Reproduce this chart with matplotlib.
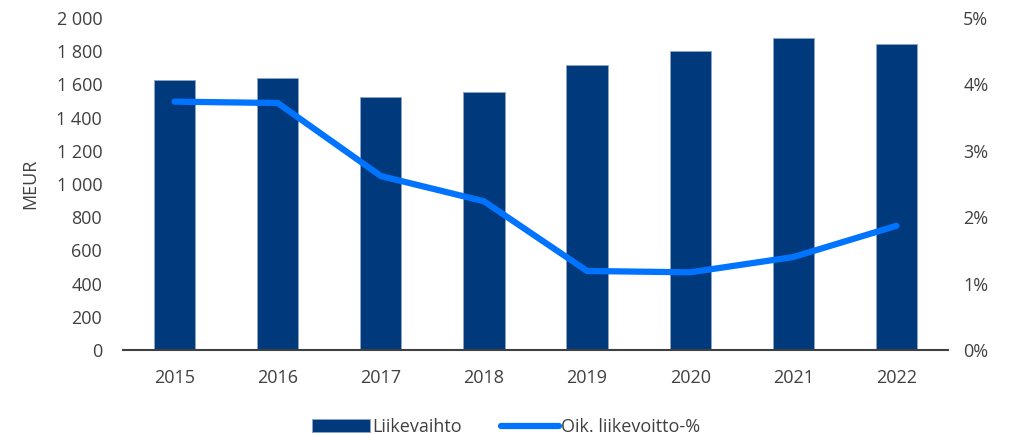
import numpy as np
import matplotlib.pyplot as plt
from matplotlib.ticker import FuncFormatter

years = ['2015', '2016', '2017', '2018', '2019', '2020', '2021', '2022']
revenue = [1627, 1640, 1526, 1554, 1719, 1799, 1880, 1843]
margin_pct = [3.74, 3.72, 2.62, 2.24, 1.19, 1.17, 1.40, 1.87]

BAR_COLOR = '#003a7d'
LINE_COLOR = '#0073ff'
TEXT_COLOR = '#404040'

plt.rcParams['font.family'] = ['Open Sans', 'DejaVu Sans']
plt.rcParams['font.size'] = 13
plt.rcParams['text.color'] = TEXT_COLOR

fig = plt.figure(figsize=(10.12, 4.36), dpi=100)
ax = fig.add_axes([123 / 1012, 86 / 436, 825 / 1012, 332 / 436])
ax2 = ax.twinx()

x = np.arange(len(years))
bars = ax.bar(x, revenue, width=0.4, color=BAR_COLOR, edgecolor='#8fa5c4',
              linewidth=0.6, label='Liikevaihto', zorder=2)
line, = ax2.plot(x, margin_pct, color=LINE_COLOR, linewidth=4.5,
                 solid_capstyle='round', solid_joinstyle='round',
                 label='Oik. liikevoitto-%', zorder=3)

ax.set_xlim(-0.5, len(years) - 0.5)
ax.set_ylim(0, 2000)
ax.set_yticks(np.arange(0, 2001, 200))
ax.yaxis.set_major_formatter(FuncFormatter(lambda v, p: f'{int(v):,}'.replace(',', ' ')))
ax2.set_ylim(0, 5)
ax2.set_yticks(np.arange(0, 6, 1))
ax2.yaxis.set_major_formatter(FuncFormatter(lambda v, p: f'{int(v)}%'))

ax.set_xticks(x)
ax.set_xticklabels(years)
ax.set_ylabel('MEUR', color=TEXT_COLOR, labelpad=12)

for a in (ax, ax2):
    for s in ['top', 'left', 'right', 'bottom']:
        a.spines[s].set_visible(False)
    a.tick_params(length=0, colors=TEXT_COLOR, labelsize=13)
ax.spines['bottom'].set_visible(True)
ax.spines['bottom'].set_color('#404040')
ax.spines['bottom'].set_linewidth(1.5)
ax.tick_params(axis='x', pad=14)
ax.tick_params(axis='y', pad=15)
ax2.tick_params(axis='y', pad=11)

fig.legend([bars, line], ['Liikevaihto', 'Oik. liikevoitto-%'],
           loc='center', bbox_to_anchor=(0.5, 9 / 436), ncol=2,
           frameon=False, handlelength=3.2, handletextpad=0.1,
           columnspacing=2.2, fontsize=13)

fig.savefig('out.png', dpi=100, facecolor='white')
